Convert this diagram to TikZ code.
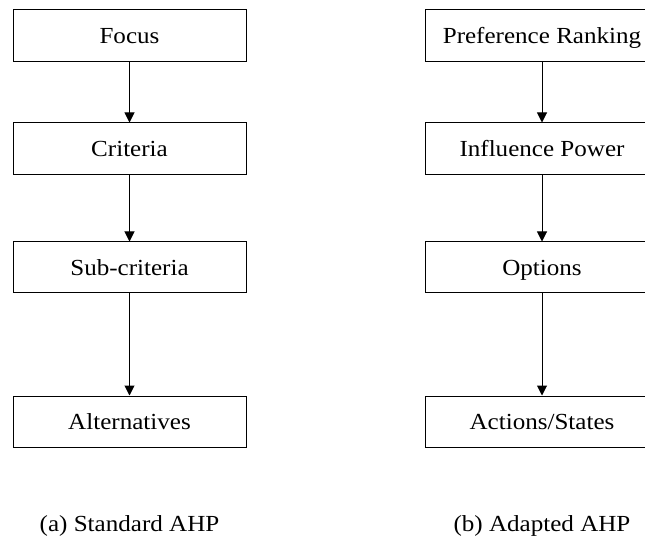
\documentclass[tikz,border=0pt]{standalone}
\usepackage{fontspec}
\setmainfont[FakeStretch=1.09]{Liberation Serif}
\usetikzlibrary{arrows.meta}
\begin{document}
\begin{tikzpicture}[x=1pt,y=1pt,
  level/.style={draw,line width=1pt,minimum width=233pt,minimum height=52pt,
    inner sep=0pt,text height=15.5pt,text depth=0pt,
    font=\fontsize{23}{27}\selectfont},
  link/.style={line width=1pt,-{Triangle[width=10pt,length=10pt]}},
  caption/.style={anchor=base,font=\fontsize{23}{27}\selectfont}]
\useasboundingbox (0,0) rectangle (645,-537);
\clip (0,0) rectangle (645,-537);

% Standard AHP hierarchy
\node[level] (focus) at (129.5,-36)    {Focus};
\node[level] (crit)  at (129.5,-149)   {Criteria};
\node[level,minimum height=51pt] (sub) at (129.5,-267.5) {Sub-criteria};
\node[level,minimum height=51pt] (alt) at (129.5,-421.5) {Alternatives};
\draw[link] (focus) -- (crit);
\draw[link] (crit) -- (sub);
\draw[link] (sub) -- (alt);
\node[caption] (capa) at (129.5,-531) {(a) Standard AHP};

% Adapted AHP hierarchy
\node[level] (pref)  at (542,-36)    {Preference Ranking};
\node[level] (infl)  at (542,-149)   {Influence Power};
\node[level,minimum height=51pt] (opt) at (542,-267.5) {Options};
\node[level,minimum height=51pt] (act) at (542,-421.5) {Actions/States};
\draw[link] (pref) -- (infl);
\draw[link] (infl) -- (opt);
\draw[link] (opt) -- (act);
\node[caption] (capb) at (542,-531) {(b) Adapted AHP};
\end{tikzpicture}
\end{document}
